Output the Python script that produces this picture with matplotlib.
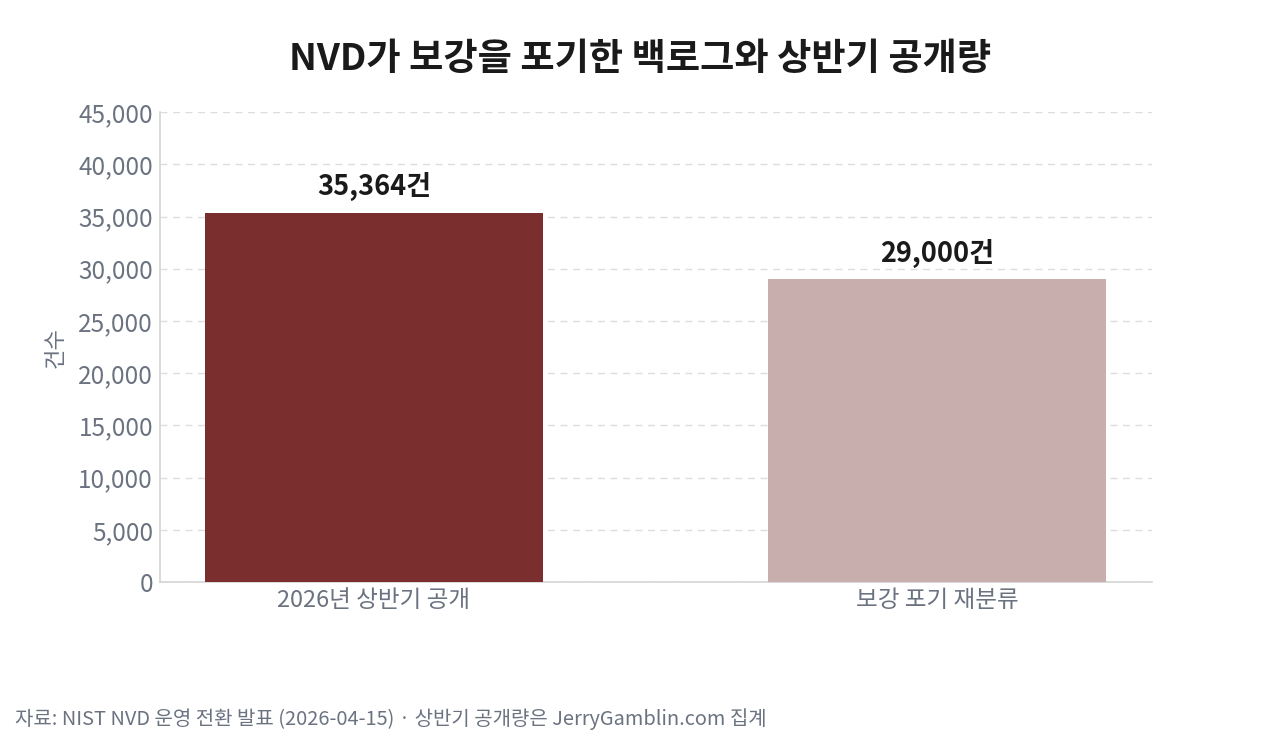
import numpy as np
import matplotlib
matplotlib.use("Agg")
import matplotlib.pyplot as plt

plt.rcParams['font.family'] = ['Noto Sans CJK KR', 'DejaVu Sans']

# data
categories = ['2026년 상반기 공개', '보강 포기 재분류']
counts = [35364, 29000]
value_labels = ['35,364건', '29,000건']
bar_colors = ['#7a2e2e', '#c9aeae']
yticks = [0, 5000, 10000, 15000, 20000, 25000, 30000, 35000, 40000, 45000]

gray = '#6b7280'

fig = plt.figure(figsize=(12.8, 7.47), dpi=100)
ax = fig.add_axes([0.125, 0.2209, 0.775, 0.629])

x = np.arange(len(categories))
ax.bar(x, counts, width=0.6, color=bar_colors, zorder=3)

for xi, v, lab in zip(x, counts, value_labels):
    ax.text(xi, v + 1100, lab, ha='center', va='bottom', fontsize=19.5,
            fontweight='bold', color='#1a1a1a')

ax.set_xlim(-0.38, 1.382)
ax.set_ylim(0, 45000)
ax.set_yticks(yticks)
ax.set_yticklabels([f'{t:,}' for t in yticks])
ax.set_xticks(x)
ax.set_xticklabels(categories)
ax.tick_params(axis='y', length=0, labelsize=17.5, labelcolor=gray, pad=5)
ax.tick_params(axis='x', length=0, labelsize=17, labelcolor=gray, pad=5)

ax.grid(axis='y', linestyle=(0, (5, 4)), color='#dddddd', linewidth=1, zorder=0)
for s in ['top', 'right']:
    ax.spines[s].set_visible(False)
for s in ['left', 'bottom']:
    ax.spines[s].set_color('#d4d4d4')
    ax.spines[s].set_linewidth(1.2)

ax.set_ylabel('건수', fontsize=16, color=gray, labelpad=8)

fig.text(0.5, 0.920, 'NVD가 보강을 포기한 백로그와 상반기 공개량', ha='center', va='center',
         fontsize=26.8, fontweight='bold', color='#1a1a1a')
fig.text(0.012, 0.037, '자료: NIST NVD 운영 전환 발표 (2026-04-15) · 상반기 공개량은 JerryGamblin.com 집계',
         ha='left', va='center', fontsize=14.4, color=gray)

fig.savefig('out.png', dpi=100)
